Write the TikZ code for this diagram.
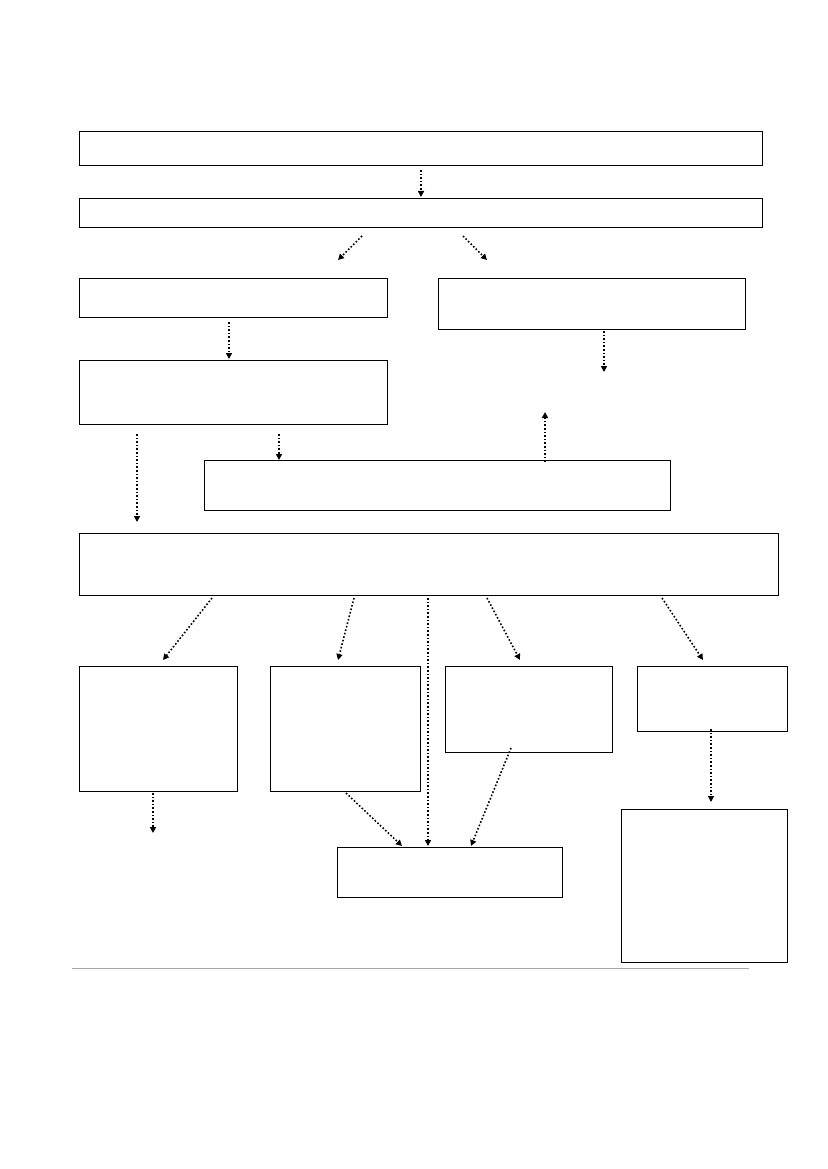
\documentclass[tikz,border=0pt]{standalone}
\usetikzlibrary{arrows.meta}
\begin{document}
\begin{tikzpicture}[x=1pt,y=-1pt,
  box/.style={draw,line width=0.8pt},
  arr/.style={line width=1.6pt,dotted,-{Triangle[width=6pt,length=6pt]}}]
\useasboundingbox (0,0) rectangle (827,1169);
\fill[white] (0,0) rectangle (827,1169);
\draw[box] (79,131) rectangle (762,165);
\draw[box] (79,198) rectangle (762,227);
\draw[box] (79,278) rectangle (387,317);
\draw[box] (438,278) rectangle (745,329);
\draw[box] (79,360) rectangle (387,424);
\draw[box] (204,460) rectangle (670,510);
\draw[box] (79,533) rectangle (778,595);
\draw[box] (79,666) rectangle (237,791);
\draw[box] (270,666) rectangle (420,791);
\draw[box] (445,666) rectangle (612,752);
\draw[box] (637,666) rectangle (787,731);
\draw[box] (337,847) rectangle (562,897);
\draw[box] (621,809) rectangle (787,962);
\draw[gray!70,line width=0.8pt] (72,968) -- (749,968);
\foreach \a/\b/\c/\d in {421/170/421/197, 362/236/338/260, 463/236/487/260,
  229/322/229/359, 604/331/604/372, 545/462/545/412, 279/434/279/460,
  137/434/137/522, 212/598/163/660, 354/598/338/660, 428/598/428/846,
  487/598/520/660, 662/598/703/660, 153/793/153/833, 346/793/402/846,
  511/748/471/846, 711/729/711/802}
  \draw[arr] (\a,\b) -- (\c,\d);
\end{tikzpicture}
\end{document}
